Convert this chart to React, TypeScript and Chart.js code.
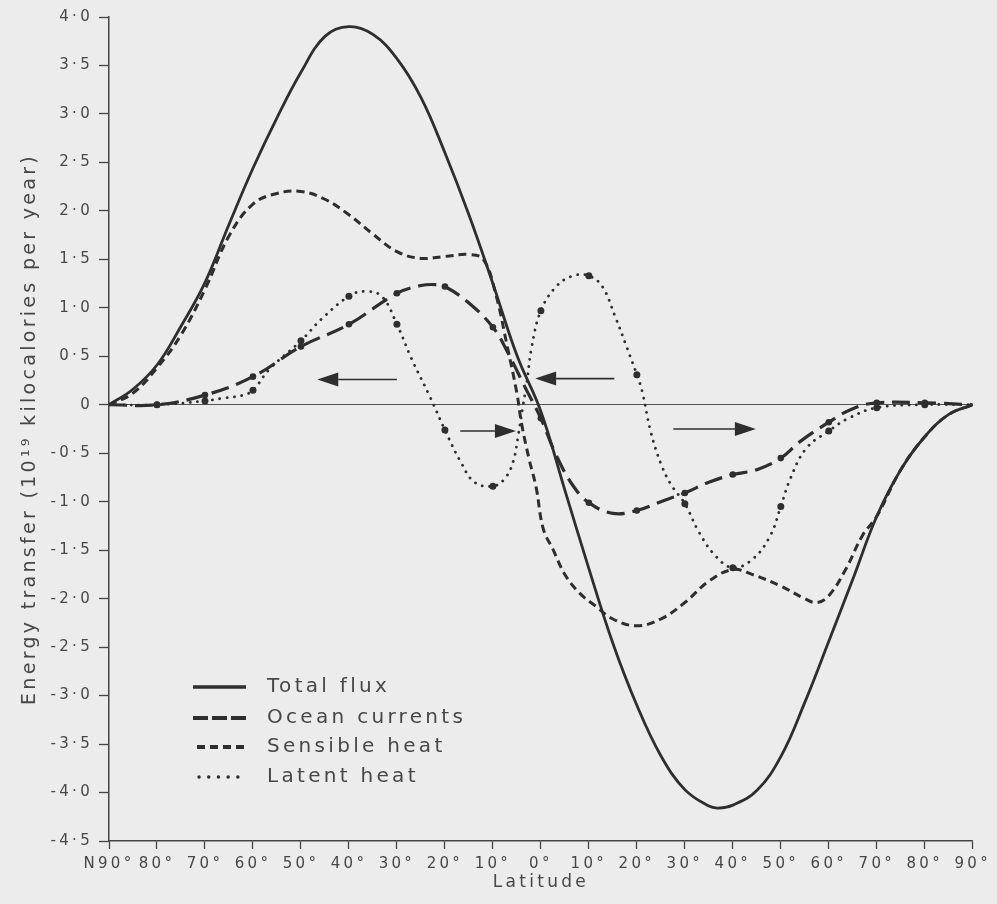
import React, { useEffect, useRef } from 'react';
import { Chart, registerables } from 'chart.js';

Chart.register(...registerables);

// ---------- axis ticks ----------
const xTickValues = [-90, -80, -70, -60, -50, -40, -30, -20, -10, 0, 10, 20, 30, 40, 50, 60, 70, 80, 90];
const xTickLabels = ['N90°', '80°', '70°', '60°', '50°', '40°', '30°', '20°', '10°', '0°', '10°', '20°', '30°', '40°', '50°', '60°', '70°', '80°', '90°'];
const yTickValues = [-4.5, -4, -3.5, -3, -2.5, -2, -1.5, -1, -0.5, 0, 0.5, 1, 1.5, 2, 2.5, 3, 3.5, 4];
const yTickLabels = ['-4·5', '-4·0', '-3·5', '-3·0', '-2·5', '-2·0', '-1·5', '-1·0', '-0·5', '0', '0·5', '1·0', '1·5', '2·0', '2·5', '3·0', '3·5', '4·0'];

const xTitle = 'Latitude';
const yTitle = 'Energy transfer (10¹⁹ kilocalories per year)';
const seriesNames = ['Total flux', 'Ocean currents', 'Sensible heat', 'Latent heat'];

// ---------- series (latitude: north negative, south positive) ----------
const totalLat = [-90, -85, -80, -75, -70, -65, -60, -55, -50, -45, -40, -35, -30, -25, -20, -15, -10, -5, 0, 5, 10, 15, 20, 25, 30, 35, 37, 40, 45, 50, 55, 60, 65, 70, 75, 80, 85, 90];
const totalFlux = [0, 0.16, 0.41, 0.81, 1.26, 1.86, 2.44, 2.96, 3.43, 3.8, 3.9, 3.82, 3.57, 3.17, 2.6, 1.96, 1.25, 0.51, -0.07, -0.88, -1.69, -2.46, -3.1, -3.62, -3.97, -4.14, -4.16, -4.13, -3.98, -3.63, -3.07, -2.44, -1.8, -1.15, -0.67, -0.33, -0.1, 0];

const oceanLat = [-90, -80, -70, -60, -50, -40, -30, -25, -22, -20, -15, -10, -7, -3.5, 0, 3, 6.5, 10, 15, 20, 25, 30, 35, 40, 45, 50, 54, 60, 65, 70, 80, 90];
const oceanCurrents = [0, 0, 0.1, 0.29, 0.6, 0.83, 1.15, 1.23, 1.24, 1.22, 1.05, 0.8, 0.55, 0.2, -0.14, -0.5, -0.82, -1.01, -1.12, -1.09, -1.0, -0.91, -0.8, -0.72, -0.67, -0.55, -0.38, -0.18, -0.04, 0.02, 0.02, 0];

const sensibleLat = [-90, -85, -80, -75, -70, -65, -60, -55, -50, -45, -40, -35, -30, -25, -20, -15, -12, -9.5, -7, -5, -4, -2.5, -1, 0.5, 2.5, 5, 8, 11.5, 15, 20, 25, 30, 35, 40, 44, 50, 55, 57.5, 60, 63.5, 67, 70, 75, 80, 85, 90];
const sensibleHeat = [0, 0.12, 0.38, 0.72, 1.19, 1.74, 2.07, 2.18, 2.2, 2.12, 1.96, 1.76, 1.58, 1.51, 1.53, 1.55, 1.5, 1.16, 0.6, 0.12, -0.2, -0.55, -0.85, -1.28, -1.49, -1.75, -1.94, -2.08, -2.21, -2.28, -2.21, -2.04, -1.82, -1.7, -1.75, -1.87, -2.0, -2.04, -1.97, -1.7, -1.35, -1.15, -0.67, -0.33, -0.1, 0];

const latentLat = [-90, -80, -70, -66, -62, -60, -56.5, -50, -45.8, -40, -36.8, -33.2, -30, -27, -23, -20, -16.7, -13.8, -10, -7.5, -5.8, -4.7, -3.8, -2.9, -1.9, 0, 3.2, 6.7, 10, 12.8, 15.4, 18, 20, 21.1, 22.9, 25.1, 27.2, 30, 32.9, 36.4, 40, 44.2, 47.8, 50, 52, 55.3, 60, 64.1, 70, 80, 90];
const latentHeat = [0, 0, 0.04, 0.07, 0.1, 0.15, 0.37, 0.66, 0.88, 1.12, 1.17, 1.12, 0.83, 0.48, 0.07, -0.26, -0.59, -0.8, -0.84, -0.76, -0.59, -0.31, -0.03, 0.24, 0.6, 0.97, 1.22, 1.33, 1.33, 1.22, 0.92, 0.58, 0.31, 0.14, -0.28, -0.62, -0.83, -1.02, -1.31, -1.56, -1.68, -1.59, -1.35, -1.05, -0.76, -0.45, -0.27, -0.14, -0.03, 0, 0];

// ---------- direction arrows ----------
const arrowFromLat = [-30, -16.8, 15.3, 27.6];
const arrowToLat = [-46.6, -5.2, -1.2, 44.8];
const arrowLevel = [0.26, -0.27, 0.27, -0.25];

const INK = '#2e2e2e';
const TEXT = '#474747';
const SPACING = '3.3px';
const TENSION = 0.4;

Chart.defaults.font.family = "'DejaVu Sans', sans-serif";
Chart.defaults.color = TEXT;

const spacingPlugin = {
  id: 'letterSpacing',
  beforeUpdate(chart: any) {
    (chart.ctx as any).letterSpacing = SPACING;
  },
  beforeDraw(chart: any) {
    (chart.ctx as any).letterSpacing = SPACING;
  },
};

const arrowPlugin = {
  id: 'arrows',
  afterDatasetsDraw(chart: any) {
    const { ctx, scales } = chart;
    const xs = scales.x;
    const ys = scales.y;
    ctx.save();
    ctx.setLineDash([]);
    ctx.strokeStyle = INK;
    ctx.fillStyle = INK;
    ctx.lineWidth = 1.6;
    arrowFromLat.forEach((from, i) => {
      const x1 = xs.getPixelForValue(from);
      const x2 = xs.getPixelForValue(arrowToLat[i]);
      const py = ys.getPixelForValue(arrowLevel[i]);
      const dir = Math.sign(x2 - x1);
      const head = 21;
      const half = 7;
      ctx.beginPath();
      ctx.moveTo(x1, py);
      ctx.lineTo(x2 - dir * head, py);
      ctx.stroke();
      ctx.beginPath();
      ctx.moveTo(x2, py);
      ctx.lineTo(x2 - dir * head, py - half);
      ctx.lineTo(x2 - dir * head, py + half);
      ctx.closePath();
      ctx.fill();
    });
    ctx.restore();
  },
};

const legendPlugin = {
  id: 'inlineLegend',
  afterDraw(chart: any) {
    const ctx = chart.ctx;
    const rows = [687, 718, 747, 777];
    const styles = [
      { dash: [] as number[], w: 3.6, cap: 'butt', x0: 193 },
      { dash: [15, 4], w: 4, cap: 'butt', x0: 193 },
      { dash: [8, 5], w: 4, cap: 'butt', x0: 197 },
      { dash: [0.1, 9.6], w: 3.4, cap: 'round', x0: 199 },
    ];
    ctx.save();
    chart.data.datasets.forEach((ds: any, i: number) => {
      const s = styles[i];
      const y = rows[i];
      ctx.beginPath();
      ctx.setLineDash(s.dash);
      ctx.lineCap = s.cap;
      ctx.lineWidth = s.w;
      ctx.strokeStyle = ds.borderColor;
      ctx.moveTo(s.x0, y);
      ctx.lineTo(246, y);
      ctx.stroke();
      ctx.setLineDash([]);
      ctx.font = "20px 'DejaVu Sans', sans-serif";
      ctx.fillStyle = TEXT;
      ctx.textAlign = 'left';
      ctx.textBaseline = 'middle';
      ctx.letterSpacing = SPACING;
      ctx.fillText(ds.label, 267, y);
    });
    ctx.restore();
  },
};

const toPoints = (xs: number[], ys: number[]) => xs.map((x, i) => ({ x, y: ys[i] }));
const decadeRadius = (r: number) => (c: any) => {
  const p = c.raw;
  return p && Math.abs(p.x) < 90 && p.x % 10 === 0 ? r : 0;
};

export default function App() {
  const ref = useRef<HTMLCanvasElement>(null);

  useEffect(() => {
    const canvas = ref.current;
    if (!canvas) return;
    const chart = new Chart(canvas, {
      type: 'line',
      data: {
        datasets: [
          {
            label: seriesNames[0],
            data: toPoints(totalLat, totalFlux),
            borderColor: INK,
            borderWidth: 2.8,
            pointRadius: 0,
            tension: TENSION,
            fill: false,
          },
          {
            label: seriesNames[1],
            data: toPoints(oceanLat, oceanCurrents),
            borderColor: INK,
            borderWidth: 3.2,
            borderDash: [18, 8],
            pointRadius: decadeRadius(3.3),
            pointBackgroundColor: INK,
            pointBorderWidth: 0,
            tension: TENSION,
            fill: false,
          },
          {
            label: seriesNames[2],
            data: toPoints(sensibleLat, sensibleHeat),
            borderColor: INK,
            borderWidth: 3,
            borderDash: [8, 5],
            pointRadius: 0,
            tension: TENSION,
            fill: false,
          },
          {
            label: seriesNames[3],
            data: toPoints(latentLat, latentHeat),
            borderColor: INK,
            borderWidth: 2.8,
            borderDash: [0.1, 7.3],
            borderCapStyle: 'round',
            pointRadius: decadeRadius(3.5),
            pointBackgroundColor: INK,
            pointBorderWidth: 0,
            tension: TENSION,
            fill: false,
          },
        ] as any,
      },
      options: {
        responsive: false,
        animation: false,
        events: [],
        layout: { padding: { left: 0, top: 17, right: 17, bottom: 0 } },
        plugins: {
          legend: { display: false },
          tooltip: { enabled: false },
        },
        scales: {
          x: {
            type: 'linear',
            position: 'bottom',
            min: -90,
            max: 90,
            afterBuildTicks: (s: any) => {
              s.ticks = xTickValues.map((v) => ({ value: v }));
            },
            afterFit: (s: any) => {
              s.height = 63;
            },
            ticks: {
              callback: (_v: any, i: number) => xTickLabels[i],
              maxRotation: 0,
              minRotation: 0,
              autoSkip: false,
              padding: 6,
              color: TEXT,
              font: { size: 15 },
            },
            grid: {
              drawOnChartArea: false,
              drawTicks: true,
              tickLength: 8,
              tickColor: '#444',
              tickWidth: 1.3,
            },
            border: { display: true, color: '#444', width: 1.5 },
            title: {
              display: true,
              text: xTitle,
              color: TEXT,
              font: { size: 17 },
              padding: { top: 0, bottom: 11 },
            },
          },
          y: {
            type: 'linear',
            min: -4.5,
            max: 4,
            afterBuildTicks: (s: any) => {
              s.ticks = yTickValues.map((v) => ({ value: v }));
            },
            afterFit: (s: any) => {
              s.width = 109;
            },
            ticks: {
              callback: (_v: any, i: number) => yTickLabels[i],
              padding: 6,
              color: TEXT,
              font: { size: 15 },
            },
            grid: {
              drawOnChartArea: true,
              drawTicks: true,
              tickLength: 10,
              tickColor: '#444',
              tickWidth: 1.3,
              lineWidth: 1,
              color: (c: any) => (c.tick && c.tick.value === 0 ? '#555' : 'rgba(0,0,0,0)'),
            },
            border: { display: true, color: '#444', width: 1.5 },
            title: {
              display: true,
              text: yTitle,
              color: TEXT,
              font: { size: 19 },
              padding: { top: 19, bottom: 0 },
            },
          },
        },
      } as any,
      plugins: [spacingPlugin, arrowPlugin, legendPlugin],
    });
    return () => chart.destroy();
  }, []);

  return (
    <div style={{ position: 'fixed', left: 0, top: 0, width: 997, height: 904, background: '#ececec' }}>
      <canvas ref={ref} width={997} height={904} style={{ display: 'block' }} />
    </div>
  );
}
